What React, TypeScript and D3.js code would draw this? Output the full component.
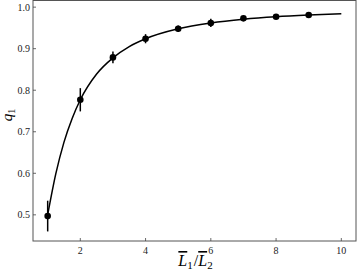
import React from "react";
import * as d3 from "d3";

const ratios = [1, 2, 3, 4, 5, 6, 7, 8, 9];
const qValues = [0.497, 0.777, 0.879, 0.924, 0.948, 0.962, 0.973, 0.977, 0.981];
const qErrors = [0.037, 0.028, 0.014, 0.011, 0.008, 0.01, 0.004, 0.004, 0.003];

const fitX = [1, 1.25, 1.5, 1.75, 2, 2.5, 3, 3.5, 4, 5, 6, 7, 8, 9, 10];
const fitY = [0.5, 0.599, 0.675, 0.732, 0.777, 0.839, 0.878, 0.905, 0.924, 0.948, 0.962, 0.971, 0.977, 0.981, 0.984];

const xTicks = [2, 4, 6, 8, 10];
const yTicks = [0.5, 0.6, 0.7, 0.8, 0.9, 1.0];

const W = 357, H = 274;
const left = 33, right = 356, top = 0.5, bottom = 241;

export default function App() {
  const x = d3.scaleLinear().domain([0.55, 10.45]).range([left, right]);
  const y = d3.scaleLinear().domain([0.437, 1.016]).range([bottom, top]);
  const line = d3
    .line<number>()
    .x((_, i) => x(fitX[i]))
    .y((d) => y(d))
    .curve(d3.curveMonotoneX);
  const font = "'Liberation Serif', 'DejaVu Serif', serif";
  const tickColor = "#444";
  const over = { textDecoration: "overline" } as React.CSSProperties;
  return (
    <svg width={W} height={H} style={{ position: "absolute", left: 0, top: 0, background: "#fff" }}>
      <rect x={left} y={top} width={right - left} height={bottom - top} fill="none" stroke="#555" strokeWidth={1} />
      {xTicks.map((t) => (
        <g key={"x" + t}>
          <line x1={x(t)} x2={x(t)} y1={bottom} y2={bottom - 3} stroke={tickColor} strokeWidth={0.8} />
          <text x={x(t)} y={bottom + 13} textAnchor="middle" fontFamily={font} fontSize={10} fill="#222">
            {t}
          </text>
        </g>
      ))}
      {yTicks.map((t) => (
        <g key={"y" + t}>
          <line x1={left} x2={left + 3} y1={y(t)} y2={y(t)} stroke={tickColor} strokeWidth={0.8} />
          <text x={left - 3} y={y(t) + 3.5} textAnchor="end" fontFamily={font} fontSize={10} fill="#222">
            {t.toFixed(1)}
          </text>
        </g>
      ))}
      <path d={line(fitY) || ""} fill="none" stroke="#000" strokeWidth={1.5} />
      {ratios.map((r, i) => (
        <g key={"p" + r}>
          <line
            x1={x(r)}
            x2={x(r)}
            y1={y(qValues[i] - qErrors[i])}
            y2={y(qValues[i] + qErrors[i])}
            stroke="#000"
            strokeWidth={1.5}
          />
          <circle cx={x(r)} cy={y(qValues[i])} r={3.3} fill="#000" />
        </g>
      ))}
      <text x={195.5} y={266} textAnchor="middle" fontFamily={font} fontSize={16} fill="#000">
        <tspan fontStyle="italic" style={over}>L</tspan>
        <tspan fontSize={11} dy={3}>1</tspan>
        <tspan dy={-3} dx={1}>/</tspan>
        <tspan fontStyle="italic" style={over}>L</tspan>
        <tspan fontSize={11} dy={3}>2</tspan>
      </text>
      <text transform={`translate(12,115) rotate(-90)`} textAnchor="middle" fontFamily={font} fontSize={15} fill="#000">
        <tspan fontStyle="italic">q</tspan>
        <tspan fontSize={10} dy={3}>1</tspan>
      </text>
    </svg>
  );
}
